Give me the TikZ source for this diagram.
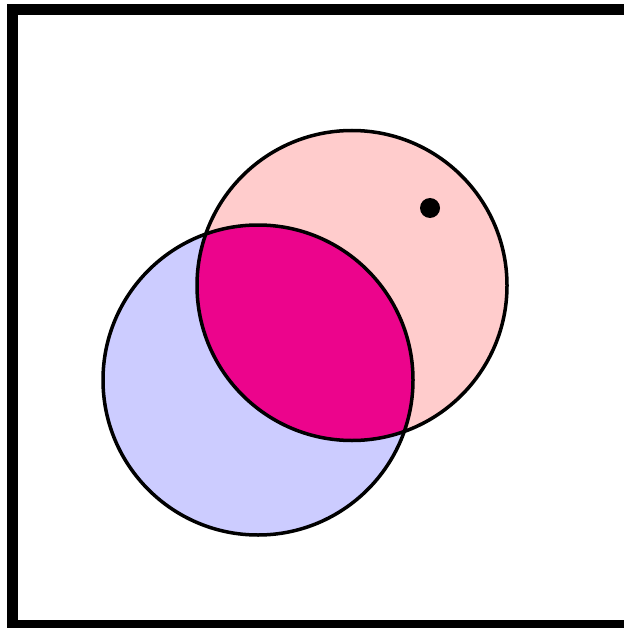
\documentclass[tikz,border=0pt]{standalone}
\usepackage{xcolor}
\usepackage{tikz}
\usetikzlibrary{calc}
\definecolor{setred}{RGB}{255, 204, 204}
\definecolor{setblue}{RGB}{204, 204, 255}
\definecolor{overlap}{RGB}{236, 4, 140}
\tikzset{
    frame/.style={draw=black, line width=11pt},
    outline/.style={draw=black, line width=3.5pt},
    element/.style={fill=black}
}

\begin{document}
\begin{tikzpicture}[x=1pt, y=-1pt]

    \useasboundingbox (0,0) rectangle (623,628);

    % universe
    \draw [frame] (12.5,9.5) rectangle (660,625.5);

    \coordinate (ca) at (352,285.5);
    \coordinate (cb) at (258,380);

    % sets
    \fill [setred]  (ca) circle (155);
    \fill [setblue] (cb) circle (155);
    \begin{scope}
        \clip (ca) circle (155);
        \fill [overlap] (cb) circle (155);
    \end{scope}
    \draw [outline] (ca) circle (155);
    \draw [outline] (cb) circle (155);

    % point
    \fill [element] (430,208) circle (10);

\end{tikzpicture}
\end{document}
